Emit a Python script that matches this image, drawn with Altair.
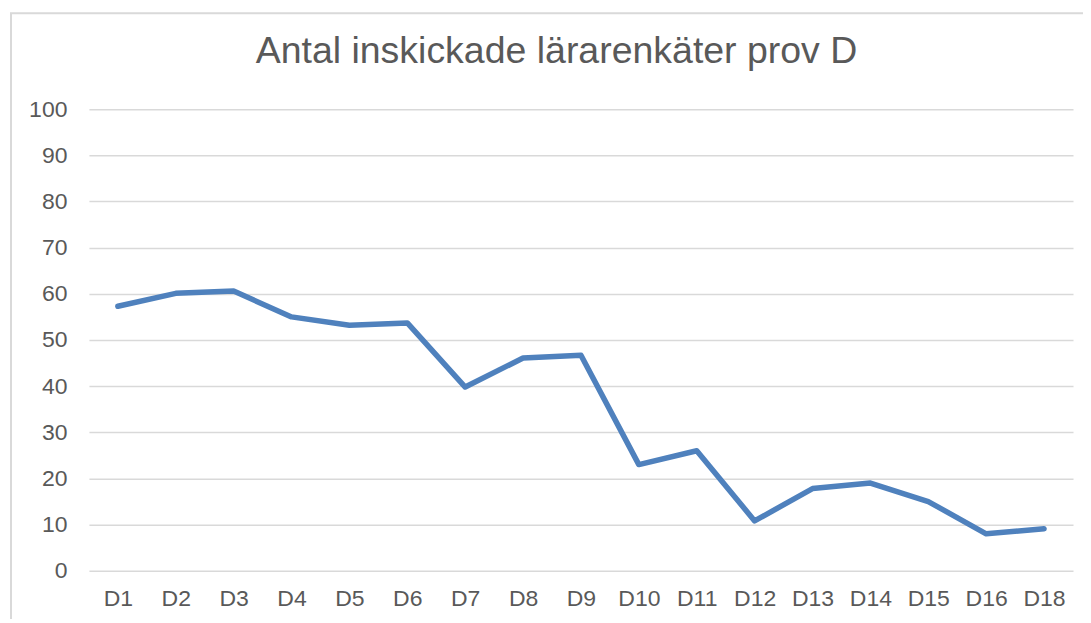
import altair as alt
import pandas as pd

categories = ["D1", "D2", "D3", "D4", "D5", "D6", "D7", "D8", "D9",
              "D10", "D11", "D12", "D13", "D14", "D15", "D16", "D18"]
values = [57.3, 60.1, 60.6, 55.0, 53.2, 53.7, 39.8, 46.1, 46.7,
          23.0, 26.0, 10.8, 17.8, 19.0, 15.0, 8.0, 9.1]
title_text = "Antal inskickade lärarenkäter prov D"
y_ticks = list(range(0, 101, 10))

df = pd.DataFrame({"prov": categories, "antal": values})
one = pd.DataFrame({"a": [0]})

W, H = 985, 462
FONT = "Liberation Sans"
GREY = "#595959"

frame = alt.Chart(one).mark_rect(
    filled=False, stroke="#d9d9d9", strokeWidth=2
).encode(
    x=alt.value(-78), x2=alt.value(1020),
    y=alt.value(-96), y2=alt.value(540),
)

title = alt.Chart(one).mark_text(
    text=title_text, font=FONT, fontSize=37.5, color=GREY,
    align="center", baseline="alphabetic"
).encode(x=alt.value(468), y=alt.value(-46))

line = alt.Chart(df).mark_line(color="#4F81BD", strokeWidth=5.5,
                                strokeJoin="round", strokeCap="round").encode(
    x=alt.X("prov:N", sort=categories,
            scale=alt.Scale(type="point", padding=0.5),
            axis=alt.Axis(title=None, labelAngle=0, domain=False, ticks=False,
                          labelFont=FONT, labelFontSize=23, labelColor=GREY,
                          labelPadding=17)),
    y=alt.Y("antal:Q", scale=alt.Scale(domain=[0, 100], nice=False),
            axis=alt.Axis(title=None, values=y_ticks, domain=False, ticks=False,
                          grid=True, gridColor="#d9d9d9", gridWidth=1.5,
                          labelFont=FONT, labelFontSize=23, labelColor=GREY,
                          labelPadding=22)),
)

chart = alt.layer(frame, title, line).properties(
    width=W, height=H,
    autosize=alt.AutoSizeParams(type="none"),
    padding={"left": 81, "top": 101, "right": 10, "bottom": 48},
).configure_view(stroke=None)

chart.save("out.html", embed_options={"renderer": "svg", "actions": False})
